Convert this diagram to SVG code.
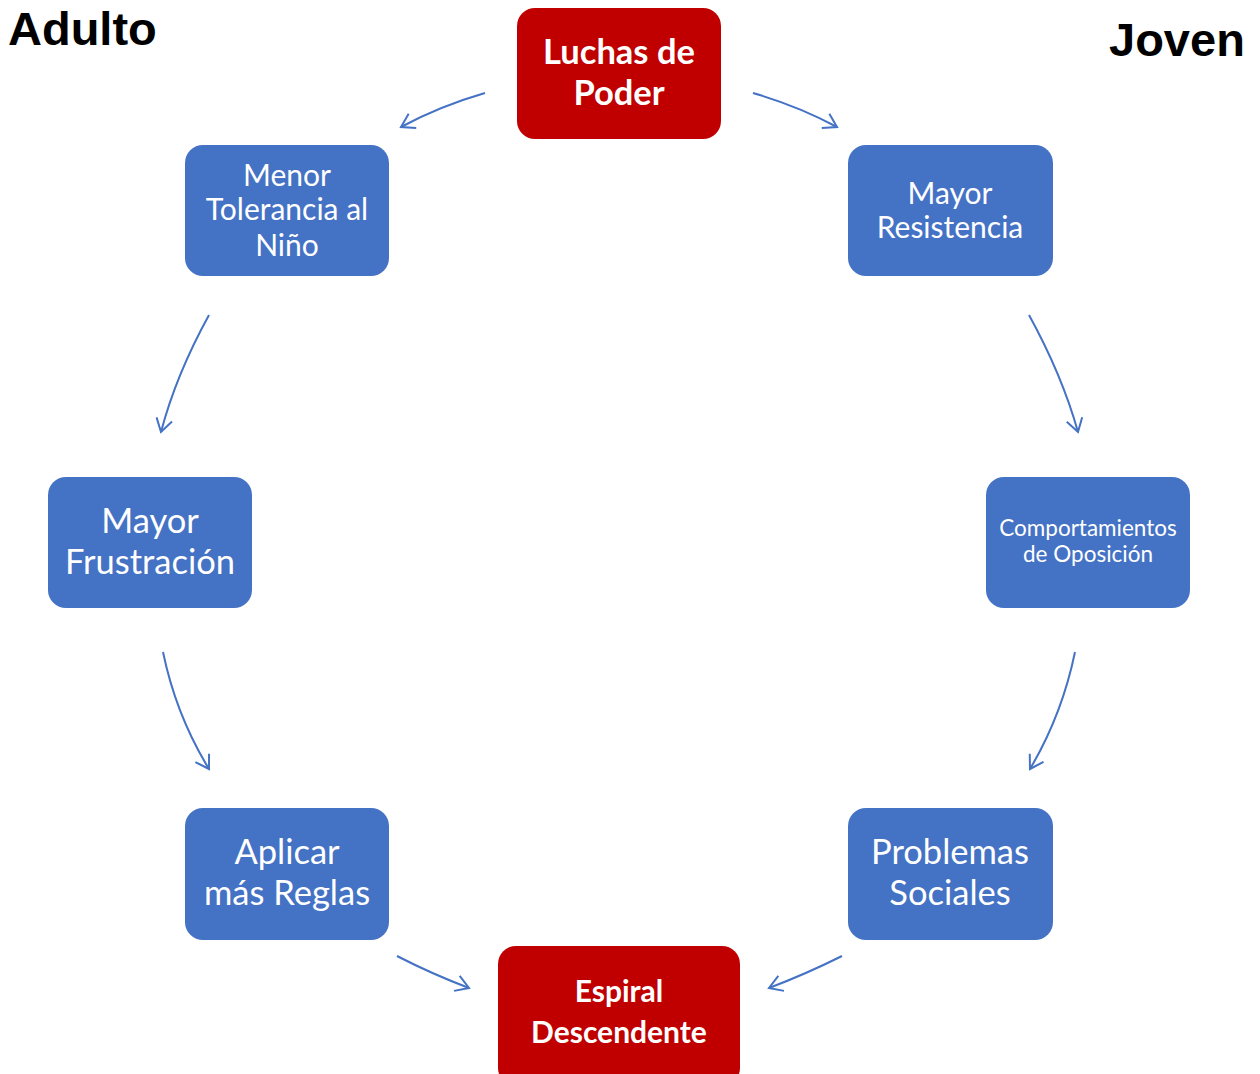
<svg xmlns="http://www.w3.org/2000/svg" width="1260" height="1074" viewBox="0 0 1260 1074">
  <style>
    .blue { fill: #4472C4; }
    .red { fill: #C00000; }
    .lbl { fill: #FFFFFF; font-family: Lato, "Open Sans", sans-serif; text-anchor: middle; }
    .bold { font-weight: bold; }
    .side { fill: #000000; font-family: "Liberation Sans", Arial, sans-serif; font-weight: bold; font-size: 47px; }
    .conn { fill: none; stroke: #4472C4; stroke-width: 2; marker-end: url(#head); }
  </style>
  <defs>
    <marker id="head" markerUnits="userSpaceOnUse" markerWidth="30" markerHeight="30" viewBox="-15 -15 30 30" refX="0" refY="0" orient="auto">
      <path d="M-13,-8 L0,0 L-13,8" fill="none" stroke="#4472C4" stroke-width="2"/>
    </marker>
  </defs>
  <rect width="1260" height="1074" fill="#FFFFFF"/>

  <text class="side" x="8" y="45">Adulto</text>
  <text class="side" x="1109" y="56">Joven</text>

  <g id="connectors">
    <path class="conn" d="M485,93 Q440,106 401,127"/>
    <path class="conn" d="M753,93 Q798,106 837,127"/>
    <path class="conn" d="M209,315 Q176,375 161,432"/>
    <path class="conn" d="M1029,315 Q1062,375 1078,432"/>
    <path class="conn" d="M163,652 Q176,715 209,769"/>
    <path class="conn" d="M1075,652 Q1062,715 1030,769"/>
    <path class="conn" d="M397,956 Q432,974 469,988"/>
    <path class="conn" d="M842,956 Q806,974 769,988"/>
  </g>

  <g id="luchas">
    <rect class="red" x="517" y="8" width="204" height="131" rx="18"/>
    <text class="lbl bold" font-size="34.5" x="619" y="64">Luchas de</text>
    <text class="lbl bold" font-size="34.5" x="619" y="105">Poder</text>
  </g>
  <g id="menor-tolerancia">
    <rect class="blue" x="185" y="145" width="204" height="131" rx="18"/>
    <text class="lbl" font-size="30" x="287" y="186">Menor</text>
    <text class="lbl" font-size="30" x="287" y="220">Tolerancia al</text>
    <text class="lbl" font-size="30" x="287" y="256">Niño</text>
  </g>
  <g id="mayor-resistencia">
    <rect class="blue" x="848" y="145" width="205" height="131" rx="18"/>
    <text class="lbl" font-size="30" x="950" y="204">Mayor</text>
    <text class="lbl" font-size="30" x="950" y="238">Resistencia</text>
  </g>
  <g id="mayor-frustracion">
    <rect class="blue" x="48" y="477" width="204" height="131" rx="18"/>
    <text class="lbl" font-size="34.5" x="150" y="533">Mayor</text>
    <text class="lbl" font-size="34.5" x="150" y="574">Frustración</text>
  </g>
  <g id="comportamientos">
    <rect class="blue" x="986" y="477" width="204" height="131" rx="18"/>
    <text class="lbl" font-size="22.5" x="1088" y="536">Comportamientos</text>
    <text class="lbl" font-size="22.5" x="1088" y="562">de Oposición</text>
  </g>
  <g id="aplicar-reglas">
    <rect class="blue" x="185" y="808" width="204" height="132" rx="18"/>
    <text class="lbl" font-size="34.5" x="287" y="864">Aplicar</text>
    <text class="lbl" font-size="34.5" x="287" y="905">más Reglas</text>
  </g>
  <g id="problemas-sociales">
    <rect class="blue" x="848" y="808" width="205" height="132" rx="18"/>
    <text class="lbl" font-size="34.5" x="950" y="864">Problemas</text>
    <text class="lbl" font-size="34.5" x="950" y="905">Sociales</text>
  </g>
  <g id="espiral">
    <rect class="red" x="498" y="946" width="242" height="140" rx="18"/>
    <text class="lbl bold" font-size="30" x="619" y="1002">Espiral</text>
    <text class="lbl bold" font-size="30" x="619" y="1043">Descendente</text>
  </g>
</svg>
